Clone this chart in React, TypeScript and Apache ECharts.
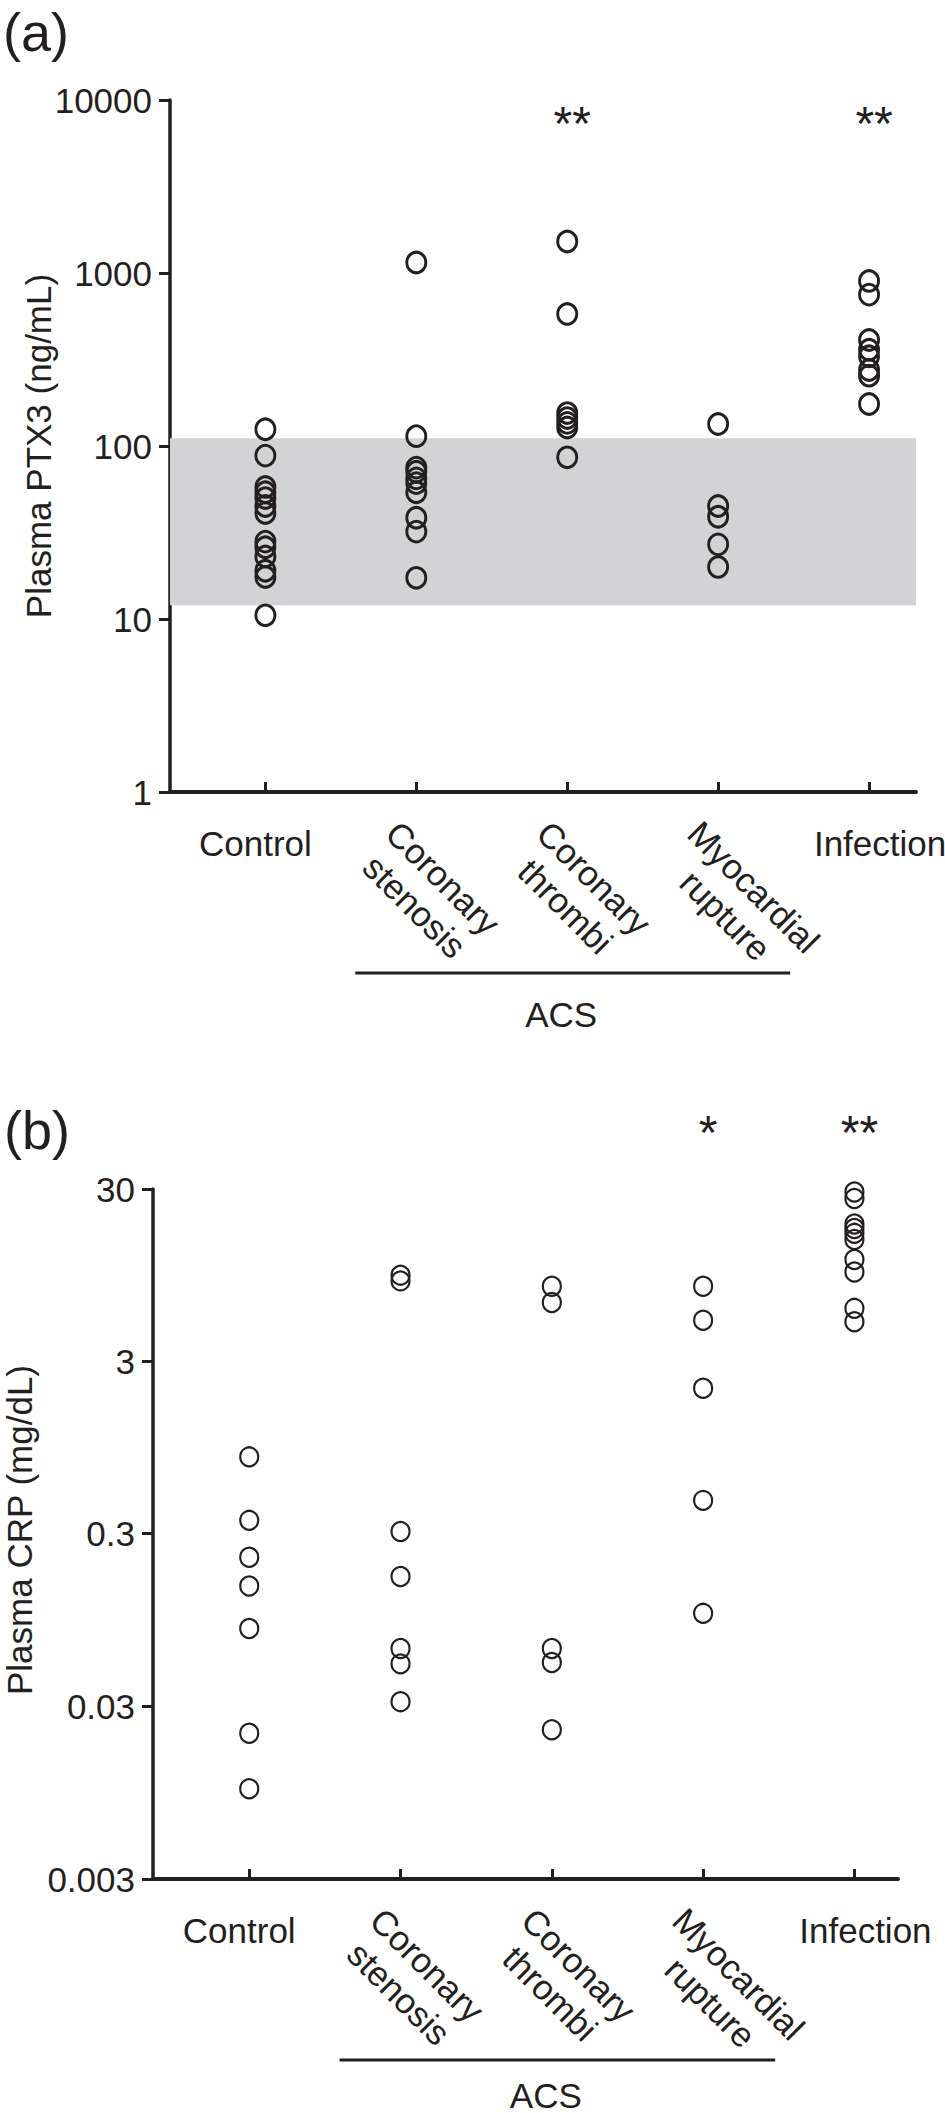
import React, { useEffect, useRef } from 'react';
import * as echarts from 'echarts';

// ---------- data ----------
const categories = ['Control', 'Coronary\nstenosis', 'Coronary\nthrombi', 'Myocardial\nrupture', 'Infection'];
const groupLabel = 'ACS';

// (a) Plasma PTX3 (ng/mL)
const ptx3Control = [125, 88, 58, 54, 50, 45, 41, 28, 26, 23, 19, 17.5, 10.5];
const ptx3Stenosis = [1150, 114, 75, 71, 65, 61, 54, 38.5, 32, 17.3];
const ptx3Thrombi = [1520, 580, 155, 145, 136, 128, 86];
const ptx3Myocardial = [134, 45, 39, 27, 20];
const ptx3Infection = [900, 750, 410, 360, 330, 275, 255, 175];
const ptx3NormalRange = [12, 111];
const ptx3Ticks = ['1', '10', '100', '1000', '10000'];
const ptx3Sig = ['', '', '**', '', '**'];

// (b) Plasma CRP (mg/dL)
const crpControl = [0.84, 0.36, 0.22, 0.15, 0.085, 0.021, 0.01];
const crpStenosis = [9.5, 8.8, 0.31, 0.17, 0.065, 0.053, 0.032];
const crpThrombi = [8.2, 6.6, 0.065, 0.054, 0.022];
const crpMyocardial = [8.2, 5.2, 2.1, 0.47, 0.104];
const crpInfection = [28.8, 26.4, 18.8, 17.7, 16.6, 15.3, 11.7, 9.9, 6.1, 5.1];
const crpTicks = ['0.003', '0.03', '0.3', '3', '30'];
const crpSig = ['', '', '', '*', '**'];

// ---------- styling ----------
const INK = '#231f20';
const BAND = '#d1d3d4';
const FONT = '"Liberation Sans", Arial, Helvetica, sans-serif';
const FS = 35;

function tickFormatter(labels: string[]) {
  return (v: number) => {
    let best = labels[0];
    let bd = Infinity;
    for (const l of labels) {
      const d = Math.abs(Math.log10(Number(l)) - Math.log10(v));
      if (d < bd) { bd = d; best = l; }
    }
    return bd < 0.02 ? best : String(v);
  };
}

const panels = [
  {
    letter: '(a)', title: 'Plasma PTX3 (ng/mL)',
    groups: [ptx3Control, ptx3Stenosis, ptx3Thrombi, ptx3Myocardial, ptx3Infection],
    ticks: ptx3Ticks, sig: ptx3Sig, band: ptx3NormalRange,
    grid: { left: 170, top: 100, width: 746, height: 692 },
    xMin: -0.632, xMax: 4.311,
    symbolSize: [19, 20.5], border: 3,
    letterPos: [3, 32], titlePos: [38, 446], starDy: 23, acsDy: 222,
  },
  {
    letter: '(b)', title: 'Plasma CRP (mg/dL)',
    groups: [crpControl, crpStenosis, crpThrombi, crpMyocardial, crpInfection],
    ticks: crpTicks, sig: crpSig, band: null as null | number[],
    grid: { left: 153, top: 1189, width: 745, height: 690 },
    xMin: -0.636, xMax: 4.288,
    symbolSize: [18, 19], border: 2.2,
    letterPos: [4, 1130], titlePos: [19, 1530], starDy: -57, acsDy: 216,
  },
];

export default function App() {
  const ref = useRef<HTMLDivElement>(null);

  useEffect(() => {
    if (!ref.current) return;
    const chart = echarts.init(ref.current, null, { renderer: 'svg' });

    const series: any[] = [];
    panels.forEach((P, p) => {
      if (P.band) {
        series.push({
          type: 'scatter', xAxisIndex: p, yAxisIndex: p, data: [], z: 1, silent: true,
          markArea: {
            silent: true, z: 1,
            itemStyle: { color: BAND, borderWidth: 0 },
            data: [[{ yAxis: P.band[0] }, { yAxis: P.band[1] }]],
          },
        });
      }
      series.push({
        type: 'scatter', xAxisIndex: p, yAxisIndex: p, z: 3, silent: true,
        symbol: 'circle', symbolSize: P.symbolSize,
        itemStyle: { color: 'rgba(0,0,0,0)', borderColor: INK, borderWidth: P.border, opacity: 1 },
        data: P.groups.flatMap((vals, i) => vals.map((v) => [i, v])),
      });
    });

    chart.setOption({
      animation: false,
      grid: panels.map((P) => ({ ...P.grid, containLabel: false })),
      xAxis: panels.map((P, p) => ({
        gridIndex: p, type: 'value', min: P.xMin, max: P.xMax,
        axisLine: { show: true, onZero: false, lineStyle: { color: INK, width: 4 } },
        axisTick: { show: true, inside: true, length: 10, lineStyle: { color: INK, width: 3 }, customValues: categories.map((_, i) => i) },
        axisLabel: { show: false },
        splitLine: { show: false },
      })),
      yAxis: panels.map((P, p) => ({
        gridIndex: p, type: 'log', logBase: 10,
        min: Number(P.ticks[0]), max: Number(P.ticks[P.ticks.length - 1]), interval: 1,
        axisLine: { show: true, onZero: false, lineStyle: { color: INK, width: 3.5 } },
        axisTick: { show: true, inside: false, length: 11, lineStyle: { color: INK, width: 3 } },
        minorTick: { show: false },
        axisLabel: { show: true, margin: 18, fontSize: FS, fontFamily: FONT, color: INK, formatter: tickFormatter(P.ticks) },
        splitLine: { show: false },
      })),
      series,
    });

    const ctx = document.createElement('canvas').getContext('2d')!;
    ctx.font = `${FS}px "Liberation Sans"`;
    const measure = (t: string) => ctx.measureText(t).width;
    const txt = (text: string, x: number, y: number, opts: any = {}) => ({
      type: 'text', x, y, rotation: opts.rotation || 0, silent: true,
      style: {
        text, fill: INK, fontSize: opts.fontSize || FS, fontFamily: opts.fontFamily || FONT,
        align: opts.align || 'center', textAlign: opts.align || 'center',
        verticalAlign: opts.va || 'middle', textVerticalAlign: opts.va || 'middle',
        lineHeight: opts.lineHeight || 40,
      },
    });

    const g: any[] = [];
    const c45 = Math.SQRT1_2;
    panels.forEach((P, p) => {
      const axisY = P.grid.top + P.grid.height;
      const colX = (i: number) => chart.convertToPixel({ xAxisIndex: p } as any, i) as number;
      g.push(txt(P.letter, P.letterPos[0], P.letterPos[1], { fontSize: 54, align: 'left', lineHeight: 60 }));
      g.push(txt(P.title, P.titlePos[0], P.titlePos[1], { rotation: Math.PI / 2 }));
      categories.forEach((cat, i) => {
        const x = colX(i);
        if (cat.includes('\n')) {
          const w1 = measure(cat.split('\n')[0]);
          const px = x - 10;
          const py = axisY + 21;
          g.push(txt(cat, px + (w1 / 2) * c45, py + (w1 / 2) * c45, { rotation: -Math.PI / 4, va: 'top' }));
        } else {
          const dx = i === 0 ? -10 : 11;
          g.push(txt(cat, x + dx, axisY + 51));
        }
        if (P.sig[i]) {
          g.push(txt(P.sig[i], x + 5, P.grid.top + P.starDy, { fontSize: 48 }));
        }
      });
      const x1 = colX(1) - 61;
      const x2 = colX(3) + 72;
      g.push({ type: 'line', silent: true, shape: { x1, y1: axisY + 181, x2, y2: axisY + 181 }, style: { stroke: INK, lineWidth: 3 } });
      g.push(txt(groupLabel, colX(2) - 6, axisY + P.acsDy, { lineHeight: 34 }));
    });
    chart.setOption({ graphic: g });

    return () => chart.dispose();
  }, []);

  return <div ref={ref} style={{ position: 'absolute', left: 0, top: 0, width: 945, height: 2113 }} />;
}
